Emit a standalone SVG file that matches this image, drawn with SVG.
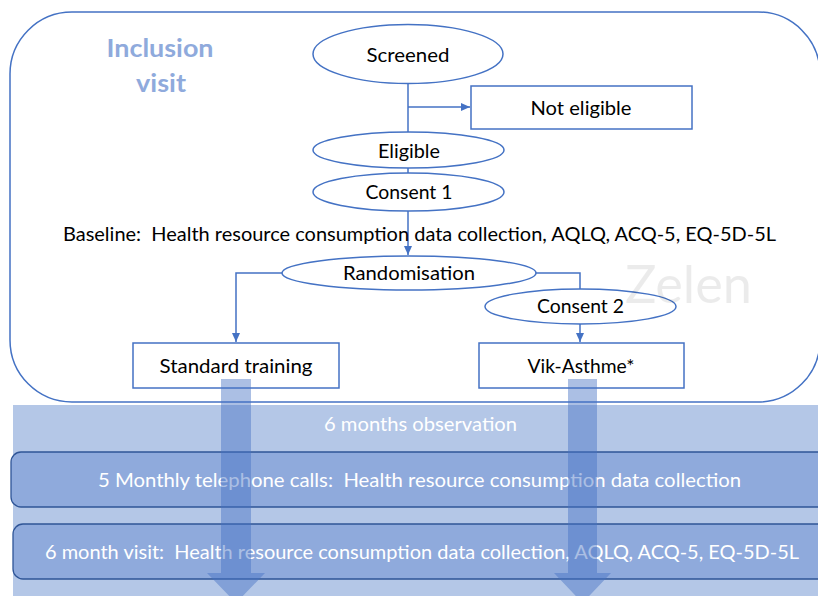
<svg xmlns="http://www.w3.org/2000/svg" width="818" height="596" viewBox="0 0 818 596">
  <defs>
    <marker id="arrow" markerUnits="userSpaceOnUse" markerWidth="10" markerHeight="10" refX="9" refY="4" orient="auto">
      <path d="M0,0 L9,4 L0,8 Z" fill="#4472C4"/>
    </marker>
    <style>
      .lbl { font-family: Lato, "Open Sans", "Liberation Sans", sans-serif; font-size: 20px; fill: #000; text-anchor: middle; }
      .wht { font-family: Lato, "Open Sans", "Liberation Sans", sans-serif; font-size: 20px; fill: #FFFFFF; text-anchor: middle; }
      .node { fill: #FFFFFF; stroke: #4472C4; stroke-width: 1.5; }
      .conn { fill: none; stroke: #4472C4; stroke-width: 1.5; }
      .band { fill: #8FAADC; stroke: #2F5597; stroke-width: 1.3; }
      .flow { fill: #4472C4; fill-opacity: 0.45; }
      .head { font-family: Lato, "Open Sans", "Liberation Sans", sans-serif; font-size: 25px; font-weight: bold; fill: #8FAADC; text-anchor: middle; }
    </style>
  </defs>

  <rect width="818" height="596" fill="#FFFFFF"/>

  <!-- inclusion visit frame -->
  <g id="inclusion-visit">
    <rect x="10" y="12" width="810" height="390" rx="62" ry="62" class="node"/>
    <text x="160" y="57" class="head" textLength="107" lengthAdjust="spacingAndGlyphs">Inclusion</text>
    <text x="161" y="92" class="head" textLength="50" lengthAdjust="spacingAndGlyphs">visit</text>
  </g>

  <!-- connectors -->
  <g id="connectors">
    <path class="conn" d="M408,83 V132"/>
    <path class="conn" d="M408,107 H470" marker-end="url(#arrow)"/>
    <path class="conn" d="M408,168 V173"/>
    <path class="conn" d="M408,211 V255" marker-end="url(#arrow)"/>
    <path class="conn" d="M282,273 H236 V342" marker-end="url(#arrow)"/>
    <path class="conn" d="M536,273 H580 V289"/>
    <path class="conn" d="M580,324 V342" marker-end="url(#arrow)"/>
  </g>

  <g id="screened">
    <ellipse cx="408" cy="54" rx="95" ry="29.5" class="node"/>
    <text x="408" y="62" class="lbl" textLength="83" lengthAdjust="spacingAndGlyphs">Screened</text>
  </g>

  <g id="not-eligible">
    <rect x="471" y="86" width="221" height="43" class="node"/>
    <text x="581" y="115" class="lbl" textLength="101" lengthAdjust="spacingAndGlyphs">Not eligible</text>
  </g>

  <g id="eligible">
    <ellipse cx="408.5" cy="150" rx="95.5" ry="18" class="node"/>
    <text x="409" y="158" class="lbl" textLength="62" lengthAdjust="spacingAndGlyphs">Eligible</text>
  </g>

  <g id="consent-1">
    <ellipse cx="408.5" cy="192" rx="95.5" ry="19" class="node"/>
    <text x="409" y="199" class="lbl" textLength="87" lengthAdjust="spacingAndGlyphs">Consent 1</text>
  </g>

  <g id="baseline">
    <text x="419.5" y="241" class="lbl" textLength="713" lengthAdjust="spacingAndGlyphs" xml:space="preserve">Baseline:  Health resource consumption data collection, AQLQ, ACQ-5, EQ-5D-5L</text>
  </g>

  <g id="randomisation">
    <ellipse cx="409" cy="273" rx="127" ry="17" class="node"/>
    <text x="409" y="280" class="lbl" textLength="132" lengthAdjust="spacingAndGlyphs">Randomisation</text>
  </g>

  <g id="consent-2">
    <ellipse cx="580.5" cy="306.5" rx="95.5" ry="17.5" class="node"/>
    <text x="580.5" y="313" class="lbl" textLength="87" lengthAdjust="spacingAndGlyphs">Consent 2</text>
  </g>

  <!-- watermark -->
  <text x="688.5" y="303" font-family="Lato, 'Open Sans', 'Liberation Sans', sans-serif" font-size="53" fill="#000000" fill-opacity="0.08" text-anchor="middle" textLength="127" lengthAdjust="spacingAndGlyphs">Zelen</text>

  <g id="standard-training">
    <rect x="133" y="343" width="206" height="45" class="node"/>
    <text x="236" y="373" class="lbl" textLength="153" lengthAdjust="spacingAndGlyphs">Standard training</text>
  </g>

  <g id="vik-asthme">
    <rect x="479" y="343" width="205" height="45" class="node"/>
    <text x="581" y="373" class="lbl" textLength="107" lengthAdjust="spacingAndGlyphs">Vik-Asthme*</text>
  </g>

  <!-- follow-up period -->
  <g id="observation">
    <rect x="13" y="405" width="805" height="191" fill="#B4C7E7"/>
    <text x="420.5" y="431" class="wht" textLength="193" lengthAdjust="spacingAndGlyphs">6 months observation</text>
  </g>

  <g id="monthly-calls">
    <rect x="11" y="452" width="820" height="55" rx="10" ry="10" class="band"/>
    <text x="419.5" y="487" class="wht" textLength="643" lengthAdjust="spacingAndGlyphs" xml:space="preserve">5 Monthly telephone calls:  Health resource consumption data collection</text>
  </g>

  <g id="month-6-visit">
    <rect x="13" y="524" width="818" height="55" rx="10" ry="10" class="band"/>
    <text x="422" y="559" class="wht" textLength="754" lengthAdjust="spacingAndGlyphs" xml:space="preserve">6 month visit:  Health resource consumption data collection, AQLQ, ACQ-5, EQ-5D-5L</text>
  </g>

  <!-- arm flow arrows -->
  <g id="arm-arrows">
    <path class="flow" d="M221,379 H251 V573 H265 L236,603 L207,573 H221 Z"/>
    <path class="flow" d="M568,379 H597 V573 H611 L582.5,603 L554,573 H568 Z"/>
  </g>
</svg>
